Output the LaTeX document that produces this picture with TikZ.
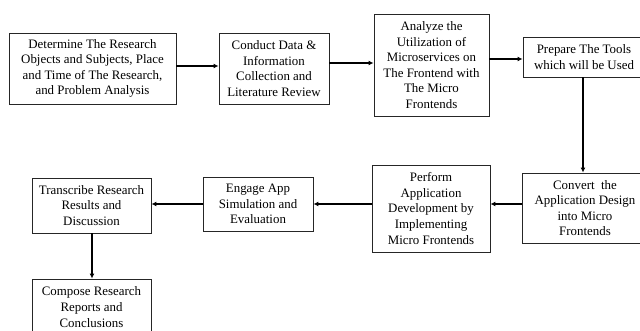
\documentclass[tikz,border=0pt]{standalone}
\usepackage{fontspec}
\setmainfont{Liberation Serif}
\usetikzlibrary{arrows.meta}
\begin{document}
\begin{tikzpicture}[x=1pt,y=-1pt,
  stepbox/.style={draw=black!85, line width=0.9pt, fill=white, align=center,
    inner sep=2pt, font=\fontsize{12.9}{15.6}\selectfont},
  flow/.style={line width=1.6pt, -{Latex[length=5pt,width=5pt]}}]
\useasboundingbox (0,0) rectangle (640,331);
\clip (0,0) rectangle (640,331);
% top row
\node[stepbox, minimum width=167pt, minimum height=71pt] (b1) at (92.5,68.5)
  {Determine The Research\\Objects and Subjects, Place\\and Time of The Research,\\and Problem Analysis};
\node[stepbox, minimum width=110pt, minimum height=71pt] (b2) at (274,68.5)
  {Conduct Data \&\\Information\\Collection and\\Literature Review};
\node[stepbox, minimum width=115pt, minimum height=102pt] (b3) at (431.5,65)
  {Analyze the\\Utilization of\\Microservices on\\The Frontend with\\The Micro\\Frontends};
\node[stepbox, minimum width=122pt, minimum height=40pt] (b4) at (584,57)
  {Prepare The Tools\\which will be Used};
% second row
\node[stepbox, minimum width=126pt, minimum height=70pt] (b5) at (585,208)
  {Convert\ \ the\\Application Design\\into Micro\\Frontends};
\node[stepbox, minimum width=118pt, minimum height=87pt] (b6) at (431,208.5)
  {Perform\\Application\\Development by\\Implementing\\Micro Frontends};
\node[stepbox, minimum width=110pt, minimum height=54pt] (b7) at (258,204)
  {Engage App\\Simulation and\\Evaluation};
\node[stepbox, minimum width=119pt, minimum height=55pt] (b8) at (91.5,205.5)
  {Transcribe Research\\Results and\\Discussion};
\node[stepbox, minimum width=119pt, minimum height=56pt] (b9) at (91.5,307)
  {Compose Research\\Reports and\\Conclusions};
% connectors
\draw[flow] ([yshift=2.5pt]b1.east) -- ([yshift=2.5pt]b1.east -| b2.west);
\draw[flow] ([yshift=5.5pt]b2.east) -- ([yshift=5.5pt]b2.east -| b3.west);
\draw[flow] ([yshift=6pt]b3.east) -- ([yshift=6pt]b3.east -| b4.west);
\draw[flow] (b4.south -| 583,0) -- (b5.north -| 583,0);
\draw[flow] ([yshift=4pt]b5.west) -- ([yshift=4pt]b5.west -| b6.east);
\draw[flow] ([yshift=4.5pt]b6.west) -- ([yshift=4.5pt]b6.west -| b7.east);
\draw[flow] (b7.west) -- (b7.west -| b8.east);
\draw[flow] ([xshift=0.5pt]b8.south) -- ([xshift=0.5pt]b9.north);
\end{tikzpicture}
\end{document}
